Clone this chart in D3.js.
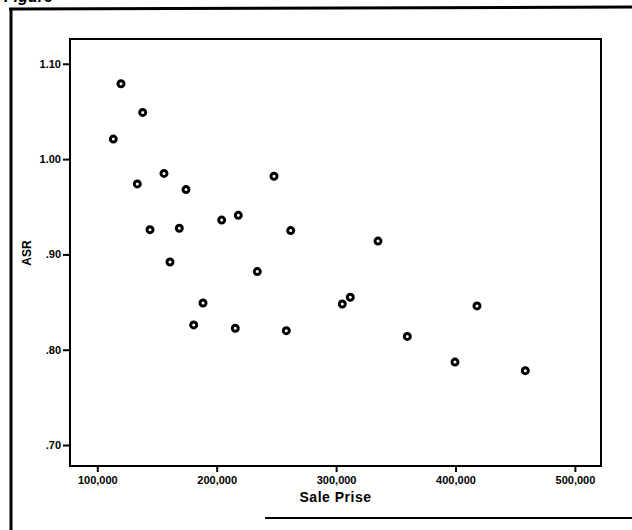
<!DOCTYPE html>
<html>
<head>
<meta charset="utf-8">
<title>ASR vs Sale Prise</title>
<style>
  body { margin: 0; background: #fff; }
  svg { display: block; font-family: "Liberation Sans", Arial, sans-serif; }
  .axis path, .axis line { stroke: #000; stroke-width: 2; }
  .axis text { font-size: 11px; font-weight: bold; fill: #000; }
</style>
</head>
<body>
<svg width="632" height="530"></svg>
<script src="https://d3js.org/d3.v7.min.js"></script>
<script>
// sale price and ASR for each sale
var salePrice = [113400, 119850, 133500, 138020, 144140, 155860, 160890, 168680, 174290,
  180740, 188530, 204190, 215580, 218090, 234000, 247990, 258290, 261980, 305190,
  311890, 335090, 359630, 399580, 418010, 458460];
var asr = [1.021, 1.079, 0.974, 1.049, 0.926, 0.985, 0.892, 0.9275, 0.968,
  0.826, 0.849, 0.936, 0.8225, 0.941, 0.882, 0.982, 0.820, 0.925, 0.848,
  0.855, 0.914, 0.814, 0.787, 0.846, 0.778];
var xTicks = [100000, 200000, 300000, 400000, 500000];
var yTicks = [0.70, 0.80, 0.90, 1.00, 1.10];
var yTickLabels = [".70", ".80", ".90", "1.00", "1.10"];

var svg = d3.select("svg");
var plotLeft = 70, plotRight = 601, plotTop = 39, plotBottom = 466;

var x = d3.scaleLinear().domain([77136, 521860]).range([plotLeft, plotRight]);
var y = d3.scaleLinear().domain([0.678, 1.126]).range([plotBottom, plotTop]);

// scanned page frame
svg.append("line").attr("x1", 11).attr("x2", 11).attr("y1", 8).attr("y2", 530)
  .attr("stroke", "#000").attr("stroke-width", 3);
svg.append("line").attr("x1", 9).attr("x2", 632).attr("y1", 9).attr("y2", 7)
  .attr("stroke", "#000").attr("stroke-width", 3);
svg.append("line").attr("x1", 265).attr("x2", 632).attr("y1", 518).attr("y2", 518)
  .attr("stroke", "#000").attr("stroke-width", 2);
svg.append("text").attr("x", 4).attr("y", 2)
  .attr("font-size", 16).attr("font-weight", "bold").attr("font-style", "italic")
  .text("Figure");

// plot box
svg.append("rect").attr("x", plotLeft).attr("y", plotTop)
  .attr("width", plotRight - plotLeft).attr("height", plotBottom - plotTop)
  .attr("fill", "none").attr("stroke", "#000").attr("stroke-width", 2);

svg.append("g").attr("class", "axis")
  .attr("transform", "translate(0," + plotBottom + ")")
  .call(d3.axisBottom(x).tickValues(xTicks).tickSize(6).tickPadding(4)
    .tickFormat(d3.format(",")))
  .call(function(g) { g.select(".domain").remove(); });

svg.append("g").attr("class", "axis")
  .attr("transform", "translate(" + plotLeft + ",0)")
  .call(d3.axisLeft(y).tickValues(yTicks).tickSize(7).tickPadding(2)
    .tickFormat(function(d, i) { return yTickLabels[i]; }))
  .call(function(g) { g.select(".domain").remove(); });

svg.append("text")
  .attr("x", (plotLeft + plotRight) / 2).attr("y", 502)
  .attr("text-anchor", "middle").attr("font-size", 14).attr("font-weight", "bold")
  .attr("letter-spacing", 0.5)
  .text("Sale Prise");

svg.append("text")
  .attr("transform", "translate(31," + 253 + ") rotate(-90)")
  .attr("text-anchor", "middle").attr("font-size", 12).attr("font-weight", "bold")
  .text("ASR");

svg.append("g").selectAll("circle")
  .data(salePrice.map(function(d, i) { return [d, asr[i]]; }))
  .enter().append("circle")
  .attr("cx", function(d) { return x(d[0]); })
  .attr("cy", function(d) { return y(d[1]); })
  .attr("r", 3)
  .attr("fill", "#fff")
  .attr("stroke", "#000")
  .attr("stroke-width", 3);
</script>
</body>
</html>
